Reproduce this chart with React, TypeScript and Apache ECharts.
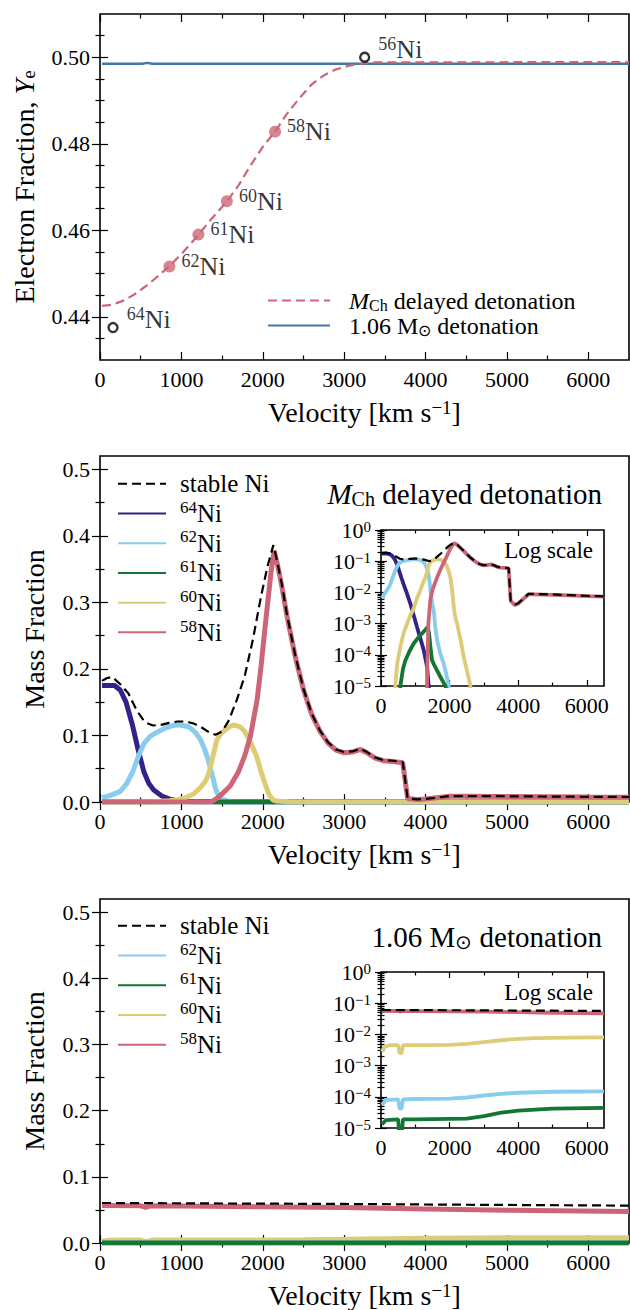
import React, { useEffect, useRef } from "react";
import * as echarts from "echarts";

const FONT = "'Liberation Serif', serif";

// ---------------- tick values ----------------
const velMajorTicks = [0, 1000, 2000, 3000, 4000, 5000, 6000];
const velMinorTicks = [500, 1500, 2500, 3500, 4500, 5500];
const yeMajorTicks = [0.44, 0.46, 0.48, 0.5];
const yeMinorTicks = [0.435, 0.445, 0.45, 0.455, 0.465, 0.47, 0.475, 0.485, 0.49, 0.495, 0.505];
const mfMajorTicks = [0, 0.1, 0.2, 0.3, 0.4, 0.5];
const mfMinorTicks = [0.05, 0.15, 0.25, 0.35, 0.45];
const insetVelMajorTicks = [0, 2000, 4000, 6000];
const insetVelMinorTicks = [1000, 3000, 5000];
const logMajorTicks = [1e-5, 1e-4, 1e-3, 1e-2, 1e-1, 1];
const logMinorTicks = logMajorTicks.slice(0, 5).flatMap((d) => [2, 3, 4, 5, 6, 7, 8, 9].map((m) => m * d));

// ---------------- panel 1: electron fraction ----------------
const yeMChDelayedDet: [number, number][] = [
  [25, 0.4425], [150, 0.4428], [300, 0.4438], [450, 0.4455], [600, 0.4476], [750, 0.45],
  [853, 0.4517], [1000, 0.4545], [1100, 0.4566], [1209, 0.4589], [1350, 0.4622], [1450, 0.4643],
  [1559, 0.4667], [1700, 0.4703], [1850, 0.475], [2000, 0.4793], [2151, 0.4828], [2300, 0.487],
  [2450, 0.4905], [2600, 0.4937], [2750, 0.4958], [2900, 0.4972], [3050, 0.498], [3200, 0.4985],
  [3350, 0.4988], [6500, 0.4989],
];
const ye106Det: [number, number][] = [
  [25, 0.4985], [520, 0.4985], [580, 0.4987], [640, 0.4985], [6500, 0.4985],
];
const markerIsotopes = ["64", "62", "61", "60", "58", "56"];
const markerVelocity = [160, 853, 1209, 1559, 2151, 3252];
const markerYe = [0.4375, 0.4516, 0.459, 0.4667, 0.4828, 0.5];
const markerFilled = [false, true, true, true, true, false];

// ---------------- panel 2: MCh delayed detonation ----------------
const stableNiMCh: [number, number][] = [
  [25, 0.182], [80, 0.186], [150, 0.188], [250, 0.177], [350, 0.163], [450, 0.138], [550, 0.12],
  [650, 0.115], [750, 0.116], [850, 0.119], [950, 0.121], [1050, 0.121], [1150, 0.118], [1250, 0.112],
  [1350, 0.104], [1420, 0.101], [1500, 0.106], [1580, 0.122], [1680, 0.153], [1780, 0.19],
  [1880, 0.245], [1980, 0.31], [2060, 0.355], [2130, 0.386], [2180, 0.36], [2230, 0.33], [2300, 0.28],
  [2400, 0.22], [2500, 0.17], [2600, 0.133], [2700, 0.108], [2800, 0.09], [2900, 0.079], [3000, 0.075],
  [3100, 0.076], [3200, 0.08], [3280, 0.075], [3380, 0.067], [3480, 0.063], [3600, 0.062], [3720, 0.06],
  [3780, 0.0055], [3900, 0.004], [4000, 0.0045], [4300, 0.009], [4500, 0.0089], [5000, 0.0086],
  [5500, 0.0082], [6000, 0.0078], [6500, 0.0075],
];
const ni64MCh: [number, number][] = [
  [25, 0.175], [100, 0.175], [180, 0.175], [250, 0.168], [320, 0.15], [400, 0.115], [470, 0.078],
  [540, 0.045], [600, 0.028], [660, 0.018], [760, 0.009], [855, 0.0044], [950, 0.0019], [1050, 7.8e-4],
  [1150, 3.3e-4], [1245, 1.4e-4], [1343, 4.1e-5], [1390, 1e-5], [1420, 1e-7], [6500, 1e-7],
];
const ni62MCh: [number, number][] = [
  [25, 0.0066], [120, 0.0095], [250, 0.016], [330, 0.028], [400, 0.045], [470, 0.068], [540, 0.088],
  [620, 0.099], [700, 0.105], [800, 0.111], [900, 0.115], [970, 0.116], [1090, 0.113], [1170, 0.105],
  [1238, 0.093], [1290, 0.078], [1330, 0.063], [1380, 0.04], [1420, 0.02], [1460, 0.008], [1500, 0.004],
  [1540, 0.0025], [1580, 8e-4], [1640, 2.8e-4], [1730, 1.1e-4], [1830, 5e-5], [1900, 2.5e-5],
  [1975, 1e-5], [2000, 1e-7], [6500, 1e-7],
];
const ni61MCh: [number, number][] = [
  [25, 1e-7], [540, 1e-7], [564, 1e-5], [640, 3.5e-5], [710, 6.6e-5], [830, 1.3e-4], [953, 2.3e-4],
  [1080, 3.5e-4], [1197, 4.8e-4], [1300, 6.5e-4], [1361, 7.7e-4], [1400, 5e-4], [1440, 1.8e-4],
  [1489, 6.6e-5], [1560, 4.5e-5], [1630, 3.2e-5], [1750, 1.8e-5], [1877, 1e-5], [1950, 5e-6],
  [2100, 2e-6], [2150, 1e-7], [6500, 1e-7],
];
const ni60MCh: [number, number][] = [
  [25, 1e-7], [400, 1e-7], [417, 1e-5], [470, 5e-5], [564, 1.8e-4], [660, 5e-4], [760, 1e-3],
  [850, 0.0018], [950, 0.003], [1050, 0.0065], [1150, 0.012], [1238, 0.022], [1300, 0.032],
  [1343, 0.045], [1390, 0.07], [1435, 0.093], [1480, 0.102], [1533, 0.108], [1600, 0.114],
  [1655, 0.1157], [1720, 0.113], [1779, 0.106], [1850, 0.09], [1926, 0.068], [1980, 0.045],
  [2027, 0.028], [2073, 0.012], [2127, 0.003], [2170, 0.0015], [2219, 1e-3], [2320, 3e-4],
  [2412, 8.5e-5], [2510, 3e-5], [2607, 1e-5], [2650, 1e-7], [6500, 1e-7],
];
const ni58MCh: [number, number][] = [
  [25, 1e-7], [1300, 1e-7], [1340, 1e-5], [1380, 1e-3], [1440, 0.006], [1500, 0.012], [1600, 0.024],
  [1700, 0.045], [1780, 0.07], [1850, 0.1], [1930, 0.153], [1980, 0.205], [2030, 0.265], [2100, 0.344],
  [2140, 0.378], [2180, 0.357], [2230, 0.327], [2300, 0.278], [2400, 0.218], [2500, 0.169],
  [2600, 0.132], [2700, 0.107], [2800, 0.089], [2900, 0.078], [3000, 0.074], [3100, 0.075],
  [3200, 0.079], [3280, 0.074], [3380, 0.066], [3480, 0.062], [3600, 0.061], [3720, 0.059],
  [3780, 0.0053], [3900, 0.0039], [4000, 0.0044], [4300, 0.0087], [4500, 0.0086], [5000, 0.0083],
  [5500, 0.008], [6000, 0.0076], [6500, 0.0073],
];

// ---------------- panel 3: 1.06 Msun detonation ----------------
const stableNiDet: [number, number][] = [
  [25, 0.0605], [1000, 0.06], [2000, 0.0595], [3000, 0.059], [4000, 0.0582], [5000, 0.0575], [6500, 0.0565],
];
const ni58Det: [number, number][] = [
  [25, 0.0565], [500, 0.0562], [560, 0.054], [620, 0.0562], [1000, 0.056], [2000, 0.0548],
  [3000, 0.0535], [4000, 0.0515], [5000, 0.0495], [6500, 0.0475],
];
const ni60Det: [number, number][] = [
  [25, 0.0028], [100, 0.004], [250, 0.0045], [500, 0.0045], [540, 0.0025], [600, 0.0025], [640, 0.0045],
  [1000, 0.0045], [2000, 0.0046], [2500, 0.005], [3000, 0.0057], [3500, 0.0065], [4000, 0.0072],
  [4500, 0.0076], [5500, 0.0079], [6500, 0.008],
];
const ni62Det: [number, number][] = [
  [25, 5.5e-5], [150, 8e-5], [500, 8.3e-5], [540, 4.2e-5], [600, 4.2e-5], [640, 8.3e-5], [1000, 8.5e-5],
  [2000, 8.7e-5], [2500, 9.5e-5], [3000, 1.1e-4], [3500, 1.25e-4], [4000, 1.35e-4], [5000, 1.45e-4],
  [6500, 1.5e-4],
];
const ni61Det: [number, number][] = [
  [25, 1.3e-5], [150, 1.8e-5], [500, 1.9e-5], [540, 5e-6], [600, 5e-6], [640, 1.9e-5], [1000, 1.9e-5],
  [2500, 2e-5], [3000, 2.4e-5], [3500, 3.1e-5], [4000, 3.6e-5], [5000, 4.2e-5], [6500, 4.4e-5],
];

// ---------------- colours ----------------
const C64 = "#332288";
const C62 = "#88CCEE";
const C61 = "#117733";
const C60 = "#DDCC77";
const C58 = "#CC6677";
const CBLUE = "#4477AA";
const DASH = [9, 5];

const richBase = (size: number) => ({
  sup: { fontFamily: FONT, fontSize: Math.round(size * 0.68), color: "#000", verticalAlign: "top", lineHeight: Math.round(size * 0.7) },
  sub: { fontFamily: FONT, fontSize: Math.round(size * 0.68), color: "#000", verticalAlign: "bottom", lineHeight: Math.round(size * 0.7) },
  it: { fontFamily: FONT, fontSize: size, fontStyle: "italic", color: "#000" },
  b: { fontFamily: FONT, fontSize: size, color: "#000" },
});

const logFmt = (v: number) => {
  const e = Math.round(Math.log10(v));
  return "{b|10}{sup|" + (e < 0 ? "\u2212" + -e : String(e)) + "}";
};

function makeAxes(cfg: any) {
  const xs: any[] = [];
  const ys: any[] = [];
  const tickLine = { color: "#000", width: 1.2 };
  for (const pos of ["bottom", "top"]) {
    for (const minor of [false, true]) {
      const main = pos === "bottom" && !minor;
      xs.push({
        type: "value",
        gridIndex: cfg.grid,
        position: pos,
        min: cfg.xMin,
        max: cfg.xMax,
        axisLine: { show: false },
        splitLine: { show: false },
        axisTick: {
          show: true,
          inside: true,
          length: minor ? cfg.minorLen : cfg.majorLen,
          lineStyle: tickLine,
          customValues: minor ? cfg.xMinor : cfg.xMajor,
        },
        axisLabel: {
          show: main,
          customValues: cfg.xMajor,
          formatter: (v: number) => "{b|" + String(Math.round(v)) + "}",
          fontFamily: FONT,
          fontSize: cfg.labelSize,
          color: "#000",
          margin: 8,
          rich: richBase(cfg.labelSize),
        },
        name: main && cfg.xName ? cfg.xName : "",
        nameLocation: "middle",
        nameGap: cfg.xNameGap,
        nameTextStyle: { fontFamily: FONT, fontSize: 28, color: "#000", rich: richBase(28) },
      });
    }
  }
  for (const pos of ["left", "right"]) {
    for (const minor of [false, true]) {
      const main = pos === "left" && !minor;
      ys.push({
        type: cfg.yType,
        logBase: 10,
        gridIndex: cfg.grid,
        position: pos,
        min: cfg.yMin,
        max: cfg.yMax,
        axisLine: { show: false },
        splitLine: { show: false },
        axisTick: {
          show: true,
          inside: true,
          length: minor ? cfg.minorLen : cfg.majorLen,
          lineStyle: tickLine,
          customValues: minor ? cfg.yMinor : cfg.yMajor,
        },
        axisLabel: {
          show: main,
          customValues: cfg.yMajor,
          formatter: cfg.yFmt,
          fontFamily: FONT,
          fontSize: cfg.labelSize,
          color: "#000",
          margin: 10,
          rich: richBase(cfg.labelSize),
        },
        name: main && cfg.yName ? cfg.yName : "",
        nameLocation: "middle",
        nameGap: cfg.yNameGap,
        nameTextStyle: { fontFamily: FONT, fontSize: 28, color: "#000", rich: richBase(28) },
      });
    }
  }
  return { xs, ys };
}

const VEL_NAME = "{b|Velocity [km s}{sup|\u22121}{b|]}";

const axisCfgs = [
  {
    grid: 0, xMin: 0, xMax: 6500, xMajor: velMajorTicks, xMinor: velMinorTicks,
    yType: "value", yMin: 0.43, yMax: 0.51, yMajor: yeMajorTicks, yMinor: yeMinorTicks,
    majorLen: 8, minorLen: 4.5, labelSize: 22, yFmt: (v: number) => "{b|" + v.toFixed(2) + "}",
    xName: VEL_NAME, xNameGap: 38, yName: "{b|Electron Fraction, }{it|Y}{sub|e}", yNameGap: 62,
  },
  {
    grid: 1, xMin: 0, xMax: 6500, xMajor: velMajorTicks, xMinor: velMinorTicks,
    yType: "value", yMin: 0, yMax: 0.52, yMajor: mfMajorTicks, yMinor: mfMinorTicks,
    majorLen: 8, minorLen: 4.5, labelSize: 22, yFmt: (v: number) => "{b|" + v.toFixed(1) + "}",
    xName: VEL_NAME, xNameGap: 38, yName: "{b|Mass Fraction}", yNameGap: 52,
  },
  {
    grid: 2, xMin: 0, xMax: 6500, xMajor: velMajorTicks, xMinor: velMinorTicks,
    yType: "value", yMin: 0, yMax: 0.52, yMajor: mfMajorTicks, yMinor: mfMinorTicks,
    majorLen: 8, minorLen: 4.5, labelSize: 22, yFmt: (v: number) => "{b|" + v.toFixed(1) + "}",
    xName: VEL_NAME, xNameGap: 38, yName: "{b|Mass Fraction}", yNameGap: 52,
  },
  {
    grid: 3, xMin: 0, xMax: 6500, xMajor: insetVelMajorTicks, xMinor: insetVelMinorTicks,
    yType: "log", yMin: 1e-5, yMax: 1, yMajor: logMajorTicks, yMinor: logMinorTicks,
    majorLen: 6, minorLen: 3.5, labelSize: 22, yFmt: logFmt,
  },
  {
    grid: 4, xMin: 0, xMax: 6500, xMajor: insetVelMajorTicks, xMinor: insetVelMinorTicks,
    yType: "log", yMin: 1e-5, yMax: 1, yMajor: logMajorTicks, yMinor: logMinorTicks,
    majorLen: 6, minorLen: 3.5, labelSize: 22, yFmt: logFmt,
  },
];

function line(name: string, data: [number, number][], grid: number, color: string, width: number, dashed = false, z = 2) {
  return {
    type: "line",
    name,
    data,
    xAxisIndex: grid * 4,
    yAxisIndex: grid * 4,
    showSymbol: false,
    symbol: "none",
    silent: true,
    clip: true,
    z,
    lineStyle: { color, width, type: dashed ? DASH : "solid", cap: "butt" },
    itemStyle: { color },
  };
}

const legendNames: Record<string, string> = {
  MCh: "{it|M}{sub|Ch}{b| delayed detonation}",
  Det: "{b|1.06 M}{sub|\u2299}{b| detonation}",
  "stable Ni": "{b|stable Ni}",
  "64Ni": "{sup|64}{b|Ni}",
  "62Ni": "{sup|62}{b|Ni}",
  "61Ni": "{sup|61}{b|Ni}",
  "60Ni": "{sup|60}{b|Ni}",
  "58Ni": "{sup|58}{b|Ni}",
};

export default function App() {
  const ref = useRef<HTMLDivElement>(null);
  useEffect(() => {
    document.body.style.margin = "0";
    if (!ref.current) return;
    const chart = echarts.init(ref.current, null, { renderer: "svg" });

    const xAxes: any[] = [];
    const yAxes: any[] = [];
    axisCfgs.forEach((c) => {
      const { xs, ys } = makeAxes(c);
      xAxes.push(...xs);
      yAxes.push(...ys);
    });

    const markerLabelRich = {
      sup: { fontFamily: FONT, fontSize: 18, color: "#000", verticalAlign: "top", lineHeight: 18 },
      b: { fontFamily: FONT, fontSize: 26, color: "#000", lineHeight: 29 },
    };
    const markerData = (filled: boolean) =>
      markerIsotopes
        .map((iso, i) => ({ iso, i }))
        .filter(({ i }) => markerFilled[i] === filled)
        .map(({ iso, i }) => ({
          value: [markerVelocity[i], markerYe[i]],
          label: {
            show: true,
            position: "right",
            distance: filled ? 6 : 8,
            offset: filled ? [0, 0] : [0, -8],
            formatter: "{sup|" + iso + "}{b|Ni}",
            rich: markerLabelRich,
          },
        }));

    const series: any[] = [
      // panel 1
      line("Det", ye106Det, 0, CBLUE, 2.4),
      line("MCh", yeMChDelayedDet, 0, C58, 2.2, true, 3),
      {
        type: "scatter", name: "filledMarkers", xAxisIndex: 0, yAxisIndex: 0, symbol: "circle", symbolSize: 12,
        itemStyle: { color: C58 }, data: markerData(true), silent: true, z: 4,
      },
      {
        type: "scatter", name: "openMarkers", xAxisIndex: 0, yAxisIndex: 0, symbol: "circle", symbolSize: 9,
        itemStyle: { color: "rgba(255,255,255,0)", borderColor: "#000", borderWidth: 2.4 }, data: markerData(false), silent: true, z: 4,
      },
      // panel 2 main
      line("64Ni", ni64MCh, 1, C64, 5),
      line("62Ni", ni62MCh, 1, C62, 5),
      line("61Ni", ni61MCh, 1, C61, 5),
      line("60Ni", ni60MCh, 1, C60, 5),
      line("58Ni", ni58MCh, 1, C58, 5),
      line("stable Ni", stableNiMCh, 1, "#000", 2.2, true, 3),
      // panel 3 main
      line("60Ni", ni60Det, 2, C60, 5),
      line("62Ni", ni62Det, 2, C62, 5),
      line("61Ni", ni61Det, 2, C61, 5),
      line("58Ni", ni58Det, 2, C58, 5),
      line("stable Ni", stableNiDet, 2, "#000", 2.2, true, 3),
      // panel 2 inset
      line("64Ni", ni64MCh, 3, C64, 3.8),
      line("62Ni", ni62MCh, 3, C62, 3.8),
      line("61Ni", ni61MCh, 3, C61, 3.8),
      line("60Ni", ni60MCh, 3, C60, 3.8),
      line("58Ni", ni58MCh, 3, C58, 3.8),
      line("stable Ni", stableNiMCh, 3, "#000", 2.2, true, 3),
      // panel 3 inset
      line("60Ni", ni60Det, 4, C60, 3.8),
      line("62Ni", ni62Det, 4, C62, 3.8),
      line("61Ni", ni61Det, 4, C61, 3.8),
      line("58Ni", ni58Det, 4, C58, 3.8),
      line("stable Ni", stableNiDet, 4, "#000", 2.2, true, 3),
    ];

    const legendText = (size: number, lh: number, padLeft: number) => ({
      fontFamily: FONT,
      fontSize: size,
      color: "#000",
      lineHeight: lh,
      padding: [0, 0, 0, padLeft],
      rich: {
        sup: { fontFamily: FONT, fontSize: Math.round(size * 0.68), color: "#000", verticalAlign: "top", lineHeight: Math.round(size * 0.7) },
        sub: { fontFamily: FONT, fontSize: Math.round(size * 0.68), color: "#000", verticalAlign: "bottom", lineHeight: Math.round(size * 0.7) },
        it: { fontFamily: FONT, fontSize: size, fontStyle: "italic", color: "#000", lineHeight: lh },
        b: { fontFamily: FONT, fontSize: size, color: "#000", lineHeight: lh },
      },
    });

    const gridBase = { show: true, borderColor: "#000", borderWidth: 1.6, containLabel: false };

    const option: any = {
      animation: false,
      textStyle: { fontFamily: FONT },
      grid: [
        { ...gridBase, left: 100, top: 14, width: 529, height: 346 },
        { ...gridBase, left: 100, top: 456, width: 529, height: 346 },
        { ...gridBase, left: 100, top: 899, width: 529, height: 346 },
        { ...gridBase, left: 381, top: 530, width: 223, height: 156, backgroundColor: "#fff" },
        { ...gridBase, left: 381, top: 972, width: 223, height: 156, backgroundColor: "#fff" },
      ],
      xAxis: xAxes,
      yAxis: yAxes,
      legend: [
        {
          data: ["MCh", "Det"], orient: "vertical", left: 267, top: 288, padding: 0, itemWidth: 62, itemHeight: 12, itemGap: 0,
          selectedMode: false, formatter: (n: string) => legendNames[n], textStyle: legendText(24, 25, 14),
          itemStyle: { opacity: 0 },
        },
        {
          data: ["stable Ni", "64Ni", "62Ni", "61Ni", "60Ni", "58Ni"], orient: "vertical", left: 117, top: 469, padding: 0,
          itemWidth: 48, itemHeight: 12, itemGap: 0, selectedMode: false, itemStyle: { opacity: 0 },
          formatter: (n: string) => legendNames[n], textStyle: legendText(25, 29.7, 9),
        },
        {
          data: ["stable Ni", "62Ni", "61Ni", "60Ni", "58Ni"], orient: "vertical", left: 117, top: 911, padding: 0,
          itemWidth: 48, itemHeight: 12, itemGap: 0, selectedMode: false, itemStyle: { opacity: 0 },
          formatter: (n: string) => legendNames[n], textStyle: legendText(25, 29.7, 9),
        },
      ],
      graphic: [
        {
          type: "text", x: 602, y: 494, z: 10,
          style: {
            text: "{it|M}{sub|Ch}{b| delayed detonation}", fontFamily: FONT, fontSize: 29, fill: "#000",
            align: "right", verticalAlign: "middle",
            rich: {
              it: { fontFamily: FONT, fontSize: 29, fontStyle: "italic", fill: "#000" },
              b: { fontFamily: FONT, fontSize: 29, fill: "#000" },
              sub: { fontFamily: FONT, fontSize: 20, fill: "#000", verticalAlign: "bottom", lineHeight: 20 },
            },
          },
        },
        {
          type: "text", x: 602, y: 937, z: 10,
          style: {
            text: "{b|1.06 M}{sub|\u2299}{b| detonation}", fontFamily: FONT, fontSize: 29, fill: "#000",
            align: "right", verticalAlign: "middle",
            rich: {
              b: { fontFamily: FONT, fontSize: 29, fill: "#000" },
              sub: { fontFamily: FONT, fontSize: 20, fill: "#000", verticalAlign: "bottom", lineHeight: 20 },
            },
          },
        },
        {
          type: "text", x: 593, y: 550, z: 10,
          style: { text: "{b|Log scale}", fontFamily: FONT, fontSize: 23, fill: "#000", align: "right", verticalAlign: "middle",
            rich: { b: { fontFamily: FONT, fontSize: 23, fill: "#000" } } },
        },
        {
          type: "text", x: 593, y: 992, z: 10,
          style: { text: "{b|Log scale}", fontFamily: FONT, fontSize: 23, fill: "#000", align: "right", verticalAlign: "middle",
            rich: { b: { fontFamily: FONT, fontSize: 23, fill: "#000" } } },
        },
      ],
      series,
    };
    chart.setOption(option);
    return () => chart.dispose();
  }, []);
  return <div ref={ref} style={{ width: 630, height: 1310, background: "#fff" }} />;
}
